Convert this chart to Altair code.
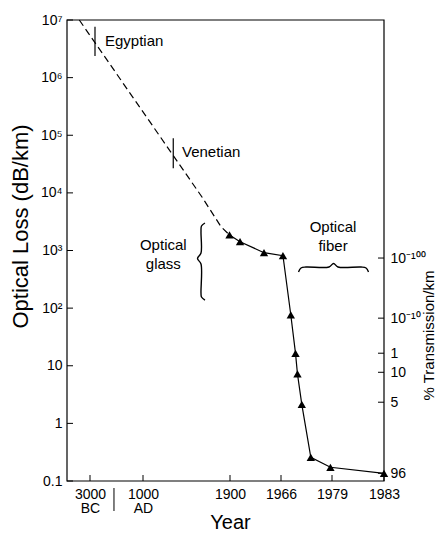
import json
import altair as alt
import pandas as pd

# ---------------- data ----------------
# measured points (triangles)
tri_years = [1895, 1913, 1944, 1966.5, 1968.5, 1969.7, 1970.2, 1971.3, 1973.6, 1978.6, 1983]
tri_loss = [1858, 1422, 916, 813, 76, 16.4, 7.2, 2.14, 0.258, 0.173, 0.136]

# historical dashed trend
dash_years = [-3808, 1610, 1807, 1895]
dash_loss = [1e7, 8480, 2590, 1858]

# era markers
era_names = ["Egyptian", "Venetian"]
era_years = [-2623, 1313]
era_loss_top = [7.65e6, 88500]
era_loss_bottom = [2.37e6, 26700]
era_label_years = [-1868, 1403]
era_label_loss = [3.47e6, 41400]

# group labels
group_text = ["Optical", "glass", "Optical", "fiber"]
group_years = [1210, 1210, 1979.08, 1979.08]
group_loss = [1021, 478, 2094, 980]

# braces
glass_brace_years = [1641, 1605, 1600, 1600, 1564, 1600, 1600, 1605, 1641]
glass_brace_loss = [3000, 2661, 2094, 905, 727, 583, 183, 156, 138]
fiber_brace_years = [1970.46, 1971.10, 1972.37, 1978.24, 1979.12, 1979.46, 1981.23, 1981.62, 1981.81]
fiber_brace_loss = [424, 497, 517, 517, 595, 517, 517, 497, 424]

# axes
x_tick_years = [-3000, 1000, 1900, 1966, 1979, 1983]
x_tick_labels = [["3000", "BC"], ["1000", "AD"], "1900", "1966", "1979", "1983"]
divider_year = [-1190]

left_tick_values = [1e7, 1e6, 1e5, 1e4, 1e3, 100, 10, 1, 0.1]
left_tick_labels = ["10⁷", "10⁶", "10⁵", "10⁴", "10³", "10²", "10", "1", "0.1"]

right_tick_loss = [740, 67, 16.5, 7.7, 2.33, 0.136]
right_tick_labels = ["10⁻¹⁰⁰", "10⁻¹⁰", "1", "10", "5", "96"]

# ---------------- helpers ----------------
def expr_log(values, labels):
    e = "''"
    for v, l in reversed(list(zip(values, labels))):
        e = f"abs(log(datum.value) - log({v})) < 0.001 ? {json.dumps(l, ensure_ascii=False)} : ({e})"
    return e

def expr_lin(values, labels):
    e = "''"
    for v, l in reversed(list(zip(values, labels))):
        e = f"abs(datum.value - ({v})) < 0.5 ? {json.dumps(l, ensure_ascii=False)} : ({e})"
    return e

FONT = "Liberation Sans"
W, H = 317, 461
x_scale = alt.Scale(domain=x_tick_years, range=[23, 76, 163, 214, 265, 317], nice=False, zero=False)
y_scale = alt.Scale(type="log", domain=[0.1, 1e7], nice=False)

bottom_axis = alt.Axis(orient="bottom", values=x_tick_years, labelExpr=expr_lin(x_tick_years, x_tick_labels),
                       ticks=False, domain=False, grid=False, labelPadding=6, labelFontSize=14,
                       labelLineHeight=14, labelFont=FONT, labelColor="black", labelFlush=False,
                       labelOverlap=False, title="Year", titleFont=FONT, titleFontSize=20,
                       titleFontWeight="normal", titleColor="black", titleX=163, titleY=47,
                       titleBaseline="alphabetic", titleAlign="center")

def X(field="year"):
    return alt.X(f"{field}:Q", scale=x_scale, axis=bottom_axis)

def Y(field="loss"):
    return alt.Y(f"{field}:Q", scale=y_scale, axis=None)

tri_df = pd.DataFrame({"year": tri_years, "loss": tri_loss})
dash_df = pd.DataFrame({"year": dash_years, "loss": dash_loss})
era_df = pd.DataFrame({"name": era_names, "year": era_years, "top": era_loss_top,
                       "bottom": era_loss_bottom, "lyear": era_label_years, "lloss": era_label_loss})
grp_df = pd.DataFrame({"text": group_text, "year": group_years, "loss": group_loss})
gb_df = pd.DataFrame({"year": glass_brace_years, "loss": glass_brace_loss, "idx": range(len(glass_brace_years))})
fb_df = pd.DataFrame({"year": fiber_brace_years, "loss": fiber_brace_loss, "idx": range(len(fiber_brace_years))})
xt_df = pd.DataFrame({"year": x_tick_years})
lt_df = pd.DataFrame({"loss": left_tick_values})
rt_df = pd.DataFrame({"loss": right_tick_loss})
div_df = pd.DataFrame({"year": divider_year})
frame_df = pd.DataFrame({"k": [0]})

left_axis = alt.Axis(orient="left", values=left_tick_values, labelExpr=expr_log(left_tick_values, left_tick_labels),
                     ticks=False, domain=False, grid=False, labelPadding=5, labelFontSize=14,
                     labelFont=FONT, labelColor="black", labelFlush=False, labelOverlap=False,
                     title="Optical  Loss (dB/km)", titleFont=FONT, titleFontSize=22,
                     titleFontWeight="normal", titleColor="black", titleAngle=270,
                     titleX=-47, titleY=206, titleBaseline="middle", titleAlign="center")

right_axis = alt.Axis(orient="right", values=right_tick_loss,
                      labelExpr=expr_log(right_tick_loss, right_tick_labels),
                      ticks=False, domain=False, grid=False, labelPadding=6, labelFontSize=14,
                      labelFont=FONT, labelColor="black", labelFlush=False, labelOverlap=False,
                      title="% Transmission/km", titleFont=FONT, titleFontSize=15,
                      titleFontWeight="normal", titleColor="black", titleAngle=270,
                      titleX=44, titleY=315, titleBaseline="middle", titleAlign="center")

points = alt.Chart(tri_df).mark_point(shape="triangle-up", filled=True, size=70, color="black", opacity=1).encode(
    x=X(),
    y=alt.Y("loss:Q", scale=y_scale, axis=left_axis),
)
solid = alt.Chart(tri_df).mark_line(color="black", strokeWidth=1.2).encode(x=X(), y=Y())
dashed = alt.Chart(dash_df).mark_line(color="black", strokeWidth=1.2, strokeDash=[7, 4]).encode(x=X(), y=Y())
era_rules = alt.Chart(era_df).mark_rule(color="black", strokeWidth=1.2).encode(
    x=X(), y=Y("top"), y2="bottom:Q")
era_text = alt.Chart(era_df).mark_text(align="left", baseline="alphabetic", font=FONT, fontSize=15,
                                       color="black").encode(x=X("lyear"), y=Y("lloss"), text="name:N")
grp_text = alt.Chart(grp_df).mark_text(align="center", baseline="alphabetic", font=FONT, fontSize=15,
                                       color="black").encode(x=X(), y=Y(), text="text:N")
glass_brace = alt.Chart(gb_df).mark_line(color="black", strokeWidth=1.4, interpolate="catmull-rom").encode(
    x=X(), y=Y(), order="idx:Q")
fiber_brace = alt.Chart(fb_df).mark_line(color="black", strokeWidth=1.4, interpolate="catmull-rom").encode(
    x=X(), y=Y(), order="idx:Q")
left_ticks = alt.Chart(lt_df).mark_rule(color="black", strokeWidth=1).encode(
    y=Y(), x=alt.value(0), x2=alt.value(6))
bottom_ticks = alt.Chart(xt_df).mark_rule(color="black", strokeWidth=1).encode(
    x=X(), y=alt.value(H), y2=alt.value(H - 6))
right_ticks = alt.Chart(rt_df).mark_rule(color="black", strokeWidth=1).encode(
    y=alt.Y("loss:Q", scale=y_scale, axis=right_axis), x=alt.value(W), x2=alt.value(W - 6))
divider = alt.Chart(div_df).mark_rule(color="black", strokeWidth=1).encode(
    x=X(), y=alt.value(H + 7), y2=alt.value(H + 30))
frame = alt.Chart(frame_df).mark_rect(fill=None, stroke="black", strokeWidth=1.2).encode(
    x=alt.value(0), x2=alt.value(W), y=alt.value(0), y2=alt.value(H))

chart = alt.layer(
    points, right_ticks, solid, dashed, era_rules, era_text, grp_text, glass_brace, fiber_brace,
    left_ticks, bottom_ticks, divider, frame
).resolve_scale(y="independent").properties(
    width=W, height=H,
    background="white",
    autosize=alt.AutoSizeParams(type="none"),
    padding={"left": 59, "top": 12, "right": 52, "bottom": 52},
).configure_view(stroke=None)

chart.save("out.html", embed_options={"renderer": "svg", "actions": False})
